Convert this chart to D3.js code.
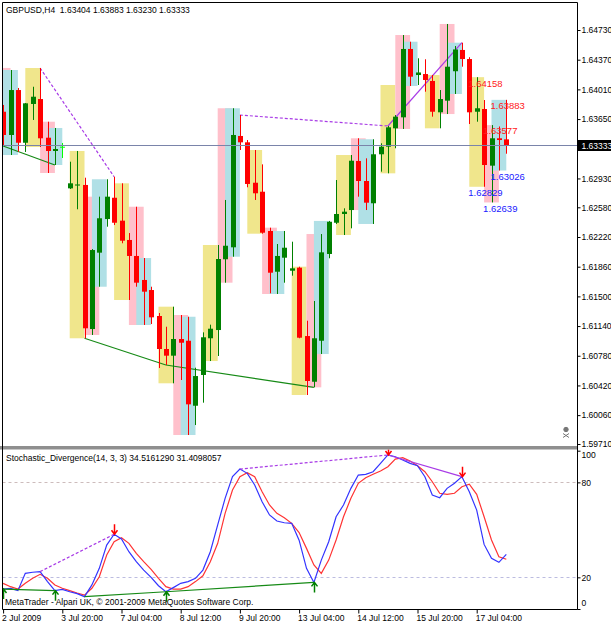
<!DOCTYPE html>
<html>
<head>
<meta charset="utf-8">
<script src="https://cdn.jsdelivr.net/npm/d3@7"></script>
<style>
	body { margin: 0; background: #fff; }
	svg { display: block; }
	text { font-family: "Liberation Sans", Arial, sans-serif; font-size: 8.5px; white-space: pre; }
</style>
</head>
<body>
<div id="chart"></div>
<script>
// H4 bars, index 0 = 2 Jul 2009 12:00 ... 68 = 17 Jul 2009 20:00
var opens = [1.63739, 1.63457, 1.64002, 1.63363, 1.63833, 1.63893, 1.63424, 1.63263, 1.63315, 1.62810,
	1.62844, 1.62851, 1.61104, 1.62030, 1.62438, 1.62696, 1.62418, 1.62184, 1.61990, 1.61699,
	1.61577, 1.61262, 1.60862, 1.60781, 1.60983, 1.60962, 1.60174, 1.60547, 1.60992, 1.61092,
	1.61950, 1.62095, 1.63445, 1.63368, 1.62878, 1.62769, 1.62293, 1.61799, 1.61969, 1.61811,
	1.61848, 1.61019, 1.60465, 1.60962, 1.62014, 1.62393, 1.62499, 1.62547, 1.63142, 1.62899,
	1.62629, 1.63223, 1.63315, 1.63538, 1.63671, 1.64500, 1.64184, 1.64196, 1.64112, 1.63732,
	1.63873, 1.64230, 1.64488, 1.64378, 1.63739, 1.63772, 1.63085, 1.63417, 1.63404];
var highs = [1.63821, 1.64245, 1.64027, 1.63845, 1.64042, 1.64269, 1.63618, 1.63542, 1.63360, 1.63133,
	1.63263, 1.62939, 1.62074, 1.62709, 1.62920, 1.62951, 1.62871, 1.62268, 1.62587, 1.61965,
	1.61617, 1.61298, 1.61132, 1.61375, 1.61274, 1.61253, 1.60635, 1.61064, 1.61157, 1.62123,
	1.62669, 1.63781, 1.63699, 1.63396, 1.63275, 1.63101, 1.62333, 1.62135, 1.62293, 1.62163,
	1.61860, 1.61205, 1.61444, 1.62256, 1.62415, 1.62911, 1.62568, 1.63214, 1.63417, 1.63174,
	1.63405, 1.63356, 1.63566, 1.63699, 1.64669, 1.64588, 1.64387, 1.64375, 1.64184, 1.64002,
	1.64803, 1.64536, 1.64576, 1.64400, 1.64158, 1.63881, 1.63577, 1.63560, 1.63883];
var lows = [1.63323, 1.63214, 1.63254, 1.63251, 1.63639, 1.63311, 1.62996, 1.63093, 1.63178, 1.62802,
	1.62556, 1.60992, 1.61032, 1.61617, 1.62345, 1.62365, 1.62144, 1.61456, 1.61617, 1.61153,
	1.61165, 1.60631, 1.60668, 1.60446, 1.60486, 1.59819, 1.59940, 1.60211, 1.60716, 1.60777,
	1.61666, 1.61981, 1.63275, 1.62823, 1.62669, 1.62260, 1.61537, 1.61529, 1.61666, 1.61751,
	1.60992, 1.60304, 1.60397, 1.60801, 1.61962, 1.62378, 1.62244, 1.62325, 1.62709, 1.62547,
	1.62378, 1.63012, 1.62992, 1.63296, 1.63530, 1.64051, 1.64063, 1.63982, 1.63679, 1.63538,
	1.63711, 1.63954, 1.64285, 1.63590, 1.63618, 1.62829, 1.62639, 1.63026, 1.63230];
var closes = [1.63457, 1.64002, 1.63363, 1.63841, 1.63921, 1.63417, 1.63263, 1.63287, 1.63315, 1.62871,
	1.62857, 1.61113, 1.62062, 1.62447, 1.62709, 1.62393, 1.62175, 1.61990, 1.61666, 1.61557,
	1.61246, 1.60862, 1.60781, 1.60983, 1.60938, 1.60191, 1.60534, 1.61004, 1.61108, 1.61953,
	1.62114, 1.63457, 1.63368, 1.62863, 1.62750, 1.62272, 1.61787, 1.61990, 1.62090, 1.61840,
	1.60999, 1.60474, 1.60992, 1.62034, 1.62405, 1.62499, 1.62527, 1.63145, 1.62899, 1.62636,
	1.63223, 1.63315, 1.63550, 1.63679, 1.64500, 1.64164, 1.64215, 1.64124, 1.63739, 1.63893,
	1.64285, 1.64494, 1.64378, 1.63732, 1.63781, 1.63093, 1.63417, 1.63396, 1.63333];

// Stochastic(14,3,3): %K main and %D signal
var stochK = [12.6, 13, 11.6, 22.5, 23.2, 23.6, 17.3, 11.6, 12.4, 10.9,
	9.7, 7.8, 15.2, 25.7, 40.4, 47.2, 44.2, 36.2, 29.9, 24.6,
	20.0, 14.7, 10.9, 13.5, 16.2, 17.3, 19.4, 24.6, 36.2, 53.1,
	69.9, 83.6, 88.4, 85.7, 78.3, 67.8, 59.4, 55.6, 54.5, 54.1,
	43.5, 25.7, 16.8, 30.9, 42.5, 58.3, 65.7, 76.2, 84.6, 85.1,
	86.7, 92, 97.3, 96.2, 94.1, 92, 90.5, 83.6, 72, 70.3,
	76.2, 79.4, 83.6, 74.1, 62.5, 40.8, 32, 29.5, 34.5161290];
var stochD = [16.2, 14.1, 12.6, 16.2, 19.4, 21.9, 19.4, 15.2, 13.1, 11.6,
	10.1, 8.8, 13.1, 20.4, 34.1, 42.5, 45, 41.5, 35.2, 29.9,
	25, 19.4, 14.1, 12.6, 12.6, 14.1, 17.3, 21, 29.9, 41.5,
	60.4, 75.2, 83.6, 86.1, 83.6, 74.1, 65.7, 60.4, 57.7, 54.1,
	48.3, 38.3, 27.8, 22.5, 30.9, 43.6, 58.3, 69.9, 79.4, 82.9,
	85.1, 87.2, 89.9, 94.7, 95.6, 93.5, 90.5, 86.7, 80.4, 73.1,
	72.4, 73.1, 77.2, 78.8, 72.4, 58.3, 43.6, 33, 31.4098057];

// Session boxes: bar index of each day's 00:00 bar, and session high/low
var dayStarts = [-3, 3, 9, 15, 21, 27, 33, 39, 45, 51, 57, 63];
var asiaHigh = [null, 1.64269, 1.63263, 1.62871, 1.61375, 1.62123, 1.63275, 1.61860, 1.63214, 1.64063, 1.64184, 1.64158];
var asiaLow = [null, 1.63311, 1.60992, 1.61456, 1.60446, 1.60716, 1.62260, 1.60304, 1.62244, 1.62992, 1.63538, 1.62829];
var europeHigh = [1.64270, 1.63618, 1.62709, 1.62587, 1.61274, 1.63781, 1.62333, 1.62256, 1.63417, 1.64669, 1.64803, 1.63577];
var europeLow = [1.63214, 1.62996, 1.61032, 1.61153, 1.59819, 1.61666, 1.61529, 1.60397, 1.62547, 1.63530, 1.63711, 1.62639];
var usHigh = [1.64245, 1.63542, 1.62920, 1.61965, 1.61253, 1.63781, 1.62293, 1.62415, 1.63405, 1.64588, 1.64576, 1.63883];
var usLow = [1.63214, 1.63093, 1.61617, 1.61153, 1.59819, 1.61981, 1.61529, 1.60801, 1.62378, 1.64051, 1.63954, 1.63026];

// Divergences found by the indicator (bar index pairs)
var bearishDiv = [{from: 5, to: 15, hidden: true}, {from: 32, to: 52, hidden: true}, {from: 52, to: 62, hidden: false}];
var bullishDiv = [{from: 0, to: 7}, {from: 11, to: 22}, {from: 22, to: 42}];
var sellArrows = [15, 52, 62];
var buyArrows = [0, 7, 22, 42];

// Axis ticks
var priceTicks = [1.59710, 1.60060, 1.60420, 1.60780, 1.61140, 1.61500, 1.61860, 1.62220,
	1.62580, 1.62930, 1.63650, 1.64010, 1.64370, 1.64730];
var stochLevels = [0, 20, 80, 100];
var timeTickBars = [0, 8, 16, 24, 32, 40, 48, 56, 64];
var timeLabels = ['2 Jul 2009', '3 Jul 20:00', '7 Jul 04:00', '8 Jul 12:00', '9 Jul 20:00',
	'13 Jul 04:00', '14 Jul 12:00', '15 Jul 20:00', '17 Jul 04:00'];

// Layout
var width = 611, height = 625;
var plotLeft = 2.5, plotRight = 577.5;
var mainTop = 2.5, mainBottom = 446;
var subTop = 449.5, subBottom = 609.5;

var xScale = d3.scaleLinear()
		.domain([0, 68])
		.range([3.1, 506.3]);

var yPrice = d3.scaleLinear()
		.domain([1.59710, 1.64730])
		.range([444, 30]);

var yStoch = d3.scaleLinear()
		.domain([0, 100])
		.range([609, 450.7]);

var fmt5 = d3.format('.5f');
var fmt7 = d3.format('.7f');
var bars = d3.range(opens.length);

function px(i) {
	return Math.round(xScale(i)) + 0.5;
}

var svg = d3.select('#chart').append('svg')
		.attr('width', width)
		.attr('height', height);

svg.append('rect').attr('width', width).attr('height', height).attr('fill', '#fff');

var defs = svg.append('defs');
defs.append('clipPath').attr('id', 'clipMain').append('rect')
		.attr('x', plotLeft).attr('y', mainTop)
		.attr('width', plotRight - plotLeft).attr('height', mainBottom - mainTop);
defs.append('clipPath').attr('id', 'clipSub').append('rect')
		.attr('x', plotLeft).attr('y', subTop)
		.attr('width', plotRight - plotLeft).attr('height', subBottom - subTop);

var main = svg.append('g').attr('clip-path', 'url(#clipMain)');
var sub = svg.append('g').attr('clip-path', 'url(#clipSub)');

/**
 * Builds the session rectangles (Asia, Europe, America) for each day.
 */
function sessionBoxes() {
	var kinds = [
		{hi: asiaHigh, lo: asiaLow, offset: 0, fill: '#f0e68c'},
		{hi: europeHigh, lo: europeLow, offset: 2, fill: '#ffc0cb'},
		{hi: usHigh, lo: usLow, offset: 3, fill: '#b0e0e6'}
	];
	var boxes = [];
	dayStarts.forEach(function(start, d) {
		kinds.forEach(function(k) {
			if (k.hi[d] == null) return;
			boxes.push({s: start + k.offset, hi: k.hi[d], lo: k.lo[d], fill: k.fill, day: d});
		});
	});
	return boxes;
}

var boxes = sessionBoxes();

main.append('g').selectAll('rect').data(boxes).enter().append('rect')
		.attr('x', d => xScale(d.s))
		.attr('y', d => yPrice(d.hi))
		.attr('width', d => xScale(d.s + 2) - xScale(d.s))
		.attr('height', d => yPrice(d.lo) - yPrice(d.hi))
		.attr('fill', d => d.fill);

// divergence lines on price
main.append('g').selectAll('line').data(bearishDiv).enter().append('line')
		.attr('x1', d => xScale(d.from)).attr('y1', d => yPrice(highs[d.from]))
		.attr('x2', d => xScale(d.to)).attr('y2', d => yPrice(highs[d.to]))
		.attr('stroke', '#a83be6').attr('stroke-width', 1.2)
		.attr('stroke-dasharray', d => d.hidden ? '3,2' : null);

main.append('g').selectAll('line').data(bullishDiv).enter().append('line')
		.attr('x1', d => xScale(d.from)).attr('y1', d => yPrice(lows[d.from]))
		.attr('x2', d => xScale(d.to)).attr('y2', d => yPrice(lows[d.to]))
		.attr('stroke', '#168a16').attr('stroke-width', 1.2);

// candles
function candleColor(i) {
	if (opens[i] === closes[i]) return '#00ff00';
	return closes[i] > opens[i] ? '#008000' : '#ff0000';
}

var candles = main.append('g').selectAll('g').data(bars).enter().append('g');

candles.append('line')
		.attr('x1', px).attr('x2', px)
		.attr('y1', i => yPrice(highs[i]))
		.attr('y2', i => yPrice(lows[i]))
		.attr('stroke', candleColor);

candles.append('rect')
		.attr('x', i => px(i) - 2.5)
		.attr('width', 5)
		.attr('y', i => yPrice(Math.max(opens[i], closes[i])))
		.attr('height', i => Math.max(1, Math.abs(yPrice(opens[i]) - yPrice(closes[i]))))
		.attr('fill', candleColor);

// last price line
var last = closes.length - 1;
main.append('line')
		.attr('x1', plotLeft).attr('x2', plotRight)
		.attr('y1', Math.round(yPrice(closes[last])) + 0.5)
		.attr('y2', Math.round(yPrice(closes[last])) + 0.5)
		.attr('stroke', '#7a84aa');

// session high/low labels of the last day
var lastDay = dayStarts.length - 1;
var labelData = [];
boxes.filter(d => d.day === lastDay).forEach(function(b) {
	labelData.push({x: xScale(b.s) - 1, v: b.hi, color: '#ff2020'});
	labelData.push({x: xScale(b.s) - 1, v: b.lo, color: '#2020ff'});
});
main.append('g').selectAll('text').data(labelData).enter().append('text')
		.attr('x', d => d.x)
		.attr('y', d => yPrice(d.v) + 9.4)
		.attr('fill', d => d.color)
		.style('font-size', '9.5px')
		.text(d => fmt5(d.v));

// expert icon
var icon = svg.append('g').attr('stroke', '#777').attr('fill', '#777');
icon.append('circle').attr('cx', 566).attr('cy', 429.5).attr('r', 2.2);
icon.append('path').attr('d', 'M563,433.5L569,437.5M563,437.5L569,433.5').attr('fill', 'none');

// stochastic panel
sub.append('g').selectAll('line').data([80, 20]).enter().append('line')
		.attr('x1', plotLeft).attr('x2', plotRight)
		.attr('y1', d => Math.round(yStoch(d)) + 0.5)
		.attr('y2', d => Math.round(yStoch(d)) + 0.5)
		.attr('stroke', d => d === 80 ? '#cdbcbc' : '#bcbce0')
		.attr('stroke-dasharray', '3,3');

var stochLine = function(values) {
	return d3.line()
			.x(i => xScale(i))
			.y(i => yStoch(values[i]))(bars);
};

sub.append('path').attr('d', stochLine(stochD))
		.attr('fill', 'none').attr('stroke', '#ff3434').attr('stroke-width', 1.2);
sub.append('path').attr('d', stochLine(stochK))
		.attr('fill', 'none').attr('stroke', '#3434ff').attr('stroke-width', 1.2);

sub.append('g').selectAll('line').data(bearishDiv).enter().append('line')
		.attr('x1', d => xScale(d.from)).attr('y1', d => yStoch(stochK[d.from]))
		.attr('x2', d => xScale(d.to)).attr('y2', d => yStoch(stochK[d.to]))
		.attr('stroke', '#a83be6').attr('stroke-width', 1.2)
		.attr('stroke-dasharray', d => d.hidden ? '3,2' : null);

sub.append('g').selectAll('line').data(bullishDiv).enter().append('line')
		.attr('x1', d => xScale(d.from)).attr('y1', d => yStoch(stochK[d.from]))
		.attr('x2', d => xScale(d.to)).attr('y2', d => yStoch(stochK[d.to]))
		.attr('stroke', '#168a16').attr('stroke-width', 1.2);

function arrowPath(i, up) {
	var cx = px(i), ty = yStoch(stochK[i]), s = up ? 1 : -1;
	return 'M' + cx + ',' + (ty + 10 * s) + 'V' + ty +
			'M' + (cx - 3) + ',' + (ty + 4 * s) + 'L' + cx + ',' + ty + 'L' + (cx + 3) + ',' + (ty + 4 * s);
}

sub.append('g').selectAll('path').data(sellArrows).enter().append('path')
		.attr('d', i => arrowPath(i, false))
		.attr('fill', 'none').attr('stroke', '#ff0000').attr('stroke-width', 1.5);
sub.append('g').selectAll('path').data(buyArrows).enter().append('path')
		.attr('d', i => arrowPath(i, true))
		.attr('fill', 'none').attr('stroke', '#008000').attr('stroke-width', 1.5);

// frames
svg.append('rect')
		.attr('x', 0).attr('y', mainBottom).attr('width', plotRight).attr('height', subTop - mainBottom)
		.attr('fill', '#8f8f8f');
svg.append('path')
		.attr('d', 'M' + plotLeft + ',' + subBottom + 'V' + mainTop + 'H' + plotRight + 'V' + subBottom + 'Z')
		.attr('fill', 'none').attr('stroke', '#000');

// price axis
var priceAxis = svg.append('g')
		.attr('transform', 'translate(' + plotRight + ',0)')
		.call(d3.axisRight(yPrice).tickValues(priceTicks).tickFormat(fmt5).tickSize(3).tickSizeOuter(0));
priceAxis.select('.domain').remove();
priceAxis.selectAll('text').attr('x', 4).attr('fill', '#000')
		.style('font-family', '"Liberation Sans", Arial, sans-serif').style('font-size', '8.5px');

var lastY = Math.round(yPrice(closes[last]));
svg.append('rect').attr('x', plotRight).attr('y', lastY - 5).attr('width', width - plotRight).attr('height', 11)
		.attr('fill', '#000');
svg.append('text').attr('x', plotRight + 4).attr('y', lastY + 3.5).attr('fill', '#fff')
		.text(fmt5(closes[last]));

// stochastic axis
var stochAxis = svg.append('g')
		.attr('transform', 'translate(' + plotRight + ',0)')
		.call(d3.axisRight(yStoch).tickValues(stochLevels).tickFormat(d3.format('d')).tickSize(3).tickSizeOuter(0));
stochAxis.select('.domain').remove();
stochAxis.selectAll('text').attr('x', 4).attr('fill', '#000')
		.attr('y', d => d === 100 ? 4.5 : (d === 0 ? -6 : 0))
		.style('font-family', '"Liberation Sans", Arial, sans-serif').style('font-size', '8.5px');

// time axis
var timeAxis = svg.append('g')
		.attr('transform', 'translate(0,' + subBottom + ')')
		.call(d3.axisBottom(xScale).tickValues(timeTickBars).tickFormat((d, i) => timeLabels[i]).tickSize(4).tickSizeOuter(0));
timeAxis.select('.domain').remove();
timeAxis.selectAll('text').attr('text-anchor', 'start').attr('x', -1.5).attr('y', 5.5).attr('fill', '#000')
		.style('font-family', '"Liberation Sans", Arial, sans-serif').style('font-size', '8.5px');

// titles
svg.append('text').attr('x', 6).attr('y', 13)
		.text('GBPUSD,H4  ' + [opens[last], highs[last], lows[last], closes[last]].map(fmt5).join(' '));
svg.append('text').attr('x', 6).attr('y', 461)
		.text('Stochastic_Divergence(14, 3, 3) ' + fmt7(stochK[last]) + ' ' + fmt7(stochD[last]));
svg.append('text').attr('x', 5).attr('y', 604.5)
		.text('MetaTrader - Alpari UK, \u00a9 2001-2009 MetaQuotes Software Corp.');
</script>
</body>
</html>
